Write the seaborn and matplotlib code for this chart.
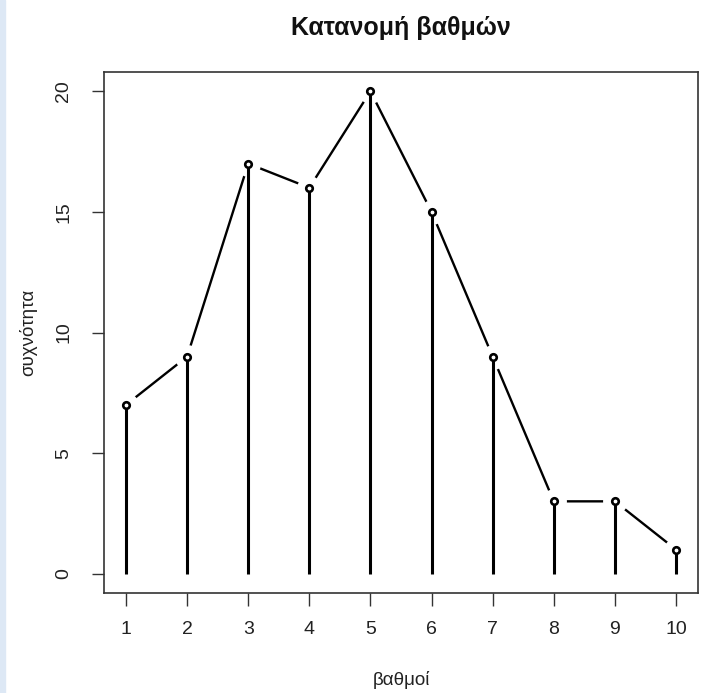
import matplotlib
matplotlib.use("Agg")
import matplotlib.pyplot as plt
import seaborn as sns
import pandas as pd
import numpy as np

grades = [1, 2, 3, 4, 5, 6, 7, 8, 9, 10]
freq = [7, 9, 17, 16, 20, 15, 9, 3, 3, 1]
title = "Κατανομή βαθμών"
xlabel = "βαθμοί"
ylabel = "συχνότητα"

df = pd.DataFrame({"grade": grades, "freq": freq})

sns.set_theme(style="white")
plt.rcParams["font.family"] = ["Liberation Sans", "DejaVu Sans"]

fig = plt.figure(figsize=(7.01, 6.93), dpi=100)
# light blue strip on the left edge
fig.patches.append(matplotlib.patches.Rectangle((0, 0), 5 / 701, 1, transform=fig.transFigure,
                                                color="#dde8f5", zorder=0))
ax = fig.add_axes([104 / 701, 1 - 593 / 693, (698 - 104) / 701, (593 - 72) / 693])

# connecting line (type "b")
sns.lineplot(data=df, x="grade", y="freq", ax=ax, color="black", linewidth=1.7, zorder=1,
             sort=False)
# white masks to create gaps around points
sns.scatterplot(data=df, x="grade", y="freq", ax=ax, s=320, color="white", edgecolor="white",
                linewidth=0, zorder=2)
# vertical stems (type "h")
ax.vlines(df["grade"], 0, df["freq"], color="black", linewidth=2.2, zorder=3)
# open circles
sns.scatterplot(data=df, x="grade", y="freq", ax=ax, s=22, facecolor="white", edgecolor="black",
                linewidth=1.9, zorder=4)

ax.set_xlim(1 - 0.36, 10 + 0.36)
ax.set_ylim(-0.8, 20.8)
ax.set_xticks(grades)
ax.set_yticks([0, 5, 10, 15, 20])
ax.set_yticklabels(["0", "5", "10", "15", "20"], rotation=90, va="center")

for s in ax.spines.values():
    s.set_color("#333333")
    s.set_linewidth(1.2)

ax.tick_params(axis="both", which="both", direction="out", length=9, width=1.0, color="#333333",
               labelsize=14, labelcolor="#222222", left=True, bottom=True)
ax.tick_params(axis="y", pad=14)
ax.tick_params(axis="x", pad=11)

ax.set_xlabel(xlabel, fontsize=13.5, color="#222222", labelpad=24)
ax.set_ylabel(ylabel, fontsize=13.5, color="#222222", labelpad=13)
fig.text((104 + 698) / 2 / 701, 1 - 28 / 693, title, ha="center", va="center",
         fontsize=18, fontweight="bold", color="#111111")

fig.savefig("out.png", dpi=100, facecolor="white")
